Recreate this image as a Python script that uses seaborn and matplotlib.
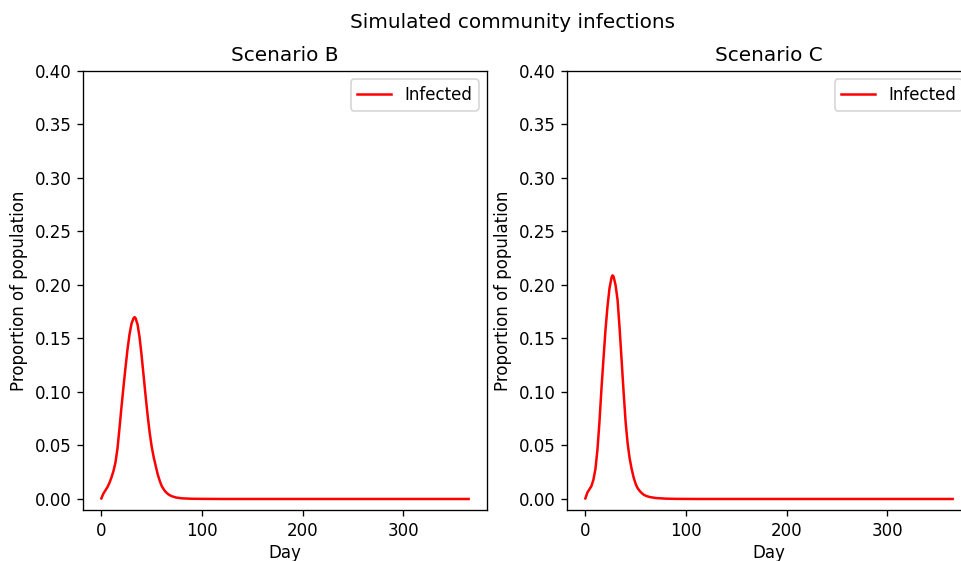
import matplotlib
matplotlib.use("Agg")
import matplotlib.pyplot as plt
import seaborn as sns
import pandas as pd

# Daily proportion of the population infected, per scenario
days_b = [0, 2, 4, 6, 8, 10, 12, 14, 16, 18, 20, 22, 24, 26, 28, 30, 32, 33, 34,
          36, 38, 40, 42, 44, 46, 48, 50, 52, 54, 56, 58, 60, 62, 64, 66, 68, 70,
          74, 80, 90, 100, 120, 365]
infected_b = [0.0005, 0.005, 0.008, 0.011, 0.015, 0.020, 0.026, 0.034, 0.047, 0.066,
              0.086, 0.105, 0.123, 0.140, 0.154, 0.164, 0.169, 0.170, 0.169, 0.163,
              0.151, 0.134, 0.115, 0.096, 0.078, 0.062, 0.049, 0.039, 0.031, 0.023,
              0.017, 0.012, 0.009, 0.0065, 0.0048, 0.0035, 0.0026, 0.0014, 0.0006,
              0.0002, 0.0001, 0.0, 0.0]

days_c = [0, 2, 4, 6, 8, 10, 12, 14, 16, 18, 20, 22, 24, 26, 27, 28, 30, 32, 34,
          36, 38, 40, 42, 44, 46, 48, 50, 52, 54, 56, 58, 60, 64, 70, 80, 90, 110, 365]
infected_c = [0.0005, 0.006, 0.009, 0.012, 0.018, 0.028, 0.046, 0.072, 0.103, 0.131,
              0.158, 0.180, 0.197, 0.207, 0.209, 0.208, 0.200, 0.186, 0.160, 0.130,
              0.100, 0.072, 0.052, 0.038, 0.028, 0.020, 0.014, 0.010, 0.0075, 0.0055,
              0.004, 0.003, 0.0018, 0.0009, 0.0003, 0.0001, 0.0, 0.0]

scenarios = ["Scenario B", "Scenario C"]
series = [(days_b, infected_b), (days_c, infected_c)]

plt.rcParams["font.family"] = ["DejaVu Sans"]

W, H, DPI = 961, 561, 120
fig = plt.figure(figsize=(W / DPI, H / DPI), dpi=DPI)

ax_left_px = [83, 567]
ax_w_px, ax_top_px, ax_bot_px = 404, 71, 510

for left_px, name, (d, v) in zip(ax_left_px, scenarios, series):
    ax = fig.add_axes([left_px / W, 1 - ax_bot_px / H,
                       ax_w_px / W, (ax_bot_px - ax_top_px) / H])
    df = pd.DataFrame({"Day": d, "Infected": v})
    sns.lineplot(data=df, x="Day", y="Infected", color="red", linewidth=1.5,
                 label="Infected", ax=ax)
    ax.set_xlim(-18.25, 383.25)
    ax.set_ylim(-0.0103, 0.40)
    ax.set_yticks([0.0, 0.05, 0.10, 0.15, 0.20, 0.25, 0.30, 0.35, 0.40])
    ax.set_xticks([0, 100, 200, 300])
    ax.set_title(name, fontsize=12)
    ax.set_xlabel("Day", fontsize=10, labelpad=2.5)
    ax.set_ylabel("Proportion of population", fontsize=10)
    ax.tick_params(labelsize=10)
    ax.legend(loc="upper right", fontsize=10)

fig.suptitle("Simulated community infections", x=512 / W, y=1 - 13 / H,
             fontsize=12, va="top")

fig.savefig("out.png", dpi=DPI, facecolor="white")
